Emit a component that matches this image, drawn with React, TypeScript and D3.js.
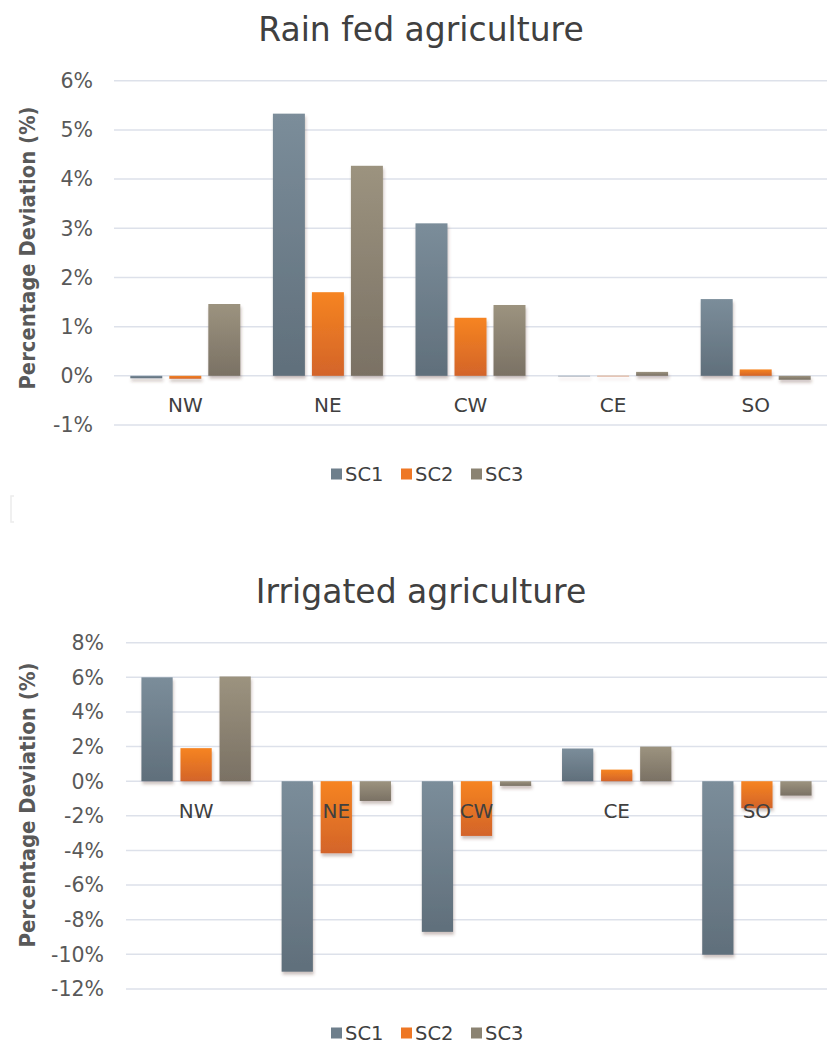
import React from "react";
import * as d3 from "d3";

// Regions and scenarios
const regions = ["NW", "NE", "CW", "CE", "SO"];
const scenarios = ["SC1", "SC2", "SC3"];

// Percentage deviation, rain fed agriculture (one array per scenario)
const rainSC1 = [-0.05, 5.33, 3.1, -0.01, 1.56];
const rainSC2 = [-0.06, 1.7, 1.18, -0.01, 0.13];
const rainSC3 = [1.46, 4.27, 1.44, 0.08, -0.08];
const rainTicks = [-1, 0, 1, 2, 3, 4, 5, 6];

// Percentage deviation, irrigated agriculture
const irrSC1 = [6.0, -11.0, -8.7, 1.89, -10.02];
const irrSC2 = [1.91, -4.16, -3.16, 0.67, -1.56];
const irrSC3 = [6.05, -1.14, -0.27, 2.0, -0.83];
const irrTicks = [-12, -10, -8, -6, -4, -2, 0, 2, 4, 6, 8];

const FONT = "'DejaVu Sans', Verdana, sans-serif";
const gradStops: Record<string, [string, string]> = {
  SC1: ["#7b8d9a", "#606f7b"],
  SC2: ["#f68420", "#d3642a"],
  SC3: ["#9c937f", "#7a7164"],
};
const legendFill: Record<string, string> = {
  SC1: "#6e7f8c",
  SC2: "#ee7724",
  SC3: "#8b8372",
};

type PanelProps = {
  title: string;
  titleY: number;
  series: number[][];
  ticks: number[];
  x0: number;
  x1: number;
  yTop: number;
  yBottom: number;
  tickRight: number;
  catLabelY: number;
  axisTitleY: number;
  axisTitleLen: number;
  legendY: number;
  innerPad: number;
  outerPad: number;
};

function Panel(p: PanelProps) {
  const dom = d3.extent(p.ticks) as [number, number];
  const y = d3.scaleLinear().domain(dom).range([p.yBottom, p.yTop]);
  const xc = d3.scaleBand<string>().domain(regions).range([p.x0, p.x1]).padding(0);
  const xs = d3
    .scaleBand<string>()
    .domain(scenarios)
    .range([0, xc.bandwidth()])
    .paddingInner(p.innerPad)
    .paddingOuter(p.outerPad);
  const legendX = d3.scaleLinear().domain([0, 1]).range([331, 401]);

  return (
    <g>
      <text
        x={421}
        y={p.titleY}
        textAnchor="middle"
        fontFamily={FONT}
        fontSize={33}
        fill="#404040"
      >
        {p.title}
      </text>
      {p.ticks.map((t) => (
        <g key={t}>
          <line
            x1={p.x0}
            x2={p.x1}
            y1={y(t)}
            y2={y(t)}
            stroke="#dde1ea"
            strokeWidth={1.5}
          />
          <text
            x={p.tickRight}
            y={y(t)}
            dy="0.36em"
            textAnchor="end"
            fontFamily={FONT}
            fontSize={20.5}
            fill="#595959"
          >
            {`${t}%`}
          </text>
        </g>
      ))}
      <text
        transform={`translate(27,${p.axisTitleY}) rotate(-90)`}
        textAnchor="middle"
        dy="0.35em"
        fontFamily={FONT}
        fontWeight="bold"
        fontSize={22}
        fill="#595959"
        textLength={p.axisTitleLen}
        lengthAdjust="spacingAndGlyphs"
      >
        Percentage Deviation (%)
      </text>
      <g filter="url(#barShadow)">
        {scenarios.map((s, si) =>
          regions.map((r, ri) => {
            const v = p.series[si][ri];
            const top = Math.min(y(v), y(0));
            const h = Math.abs(y(v) - y(0));
            return (
              <rect
                key={s + r}
                x={(xc(r) ?? 0) + (xs(s) ?? 0)}
                y={top}
                width={xs.bandwidth()}
                height={h}
                fill={`url(#grad${s})`}
              />
            );
          })
        )}
      </g>
      {regions.map((r) => (
        <text
          key={r}
          x={(xc(r) ?? 0) + xc.bandwidth() / 2}
          y={p.catLabelY}
          textAnchor="middle"
          fontFamily={FONT}
          fontSize={20}
          fill="#404040"
        >
          {r}
        </text>
      ))}
      {scenarios.map((s, i) => (
        <g key={s} transform={`translate(${legendX(i)},${p.legendY})`}>
          <rect x={0} y={-5.5} width={11} height={11} fill={legendFill[s]} />
          <text
            x={14}
            y={0}
            dy="0.36em"
            fontFamily={FONT}
            fontSize={19.5}
            fill="#404040"
          >
            {s}
          </text>
        </g>
      ))}
    </g>
  );
}

export default function App() {
  return (
    <svg
      width={828}
      height={1046}
      style={{ display: "block", position: "absolute", left: 0, top: 0 }}
    >
      <defs>
        <filter id="barShadow" x="-20%" y="-20%" width="140%" height="140%">
          <feDropShadow dx={1} dy={3} stdDeviation={1.6} floodColor="#5a3a2a" floodOpacity={0.3} />
        </filter>
        {scenarios.map((s) => (
          <linearGradient key={s} id={`grad${s}`} x1="0" y1="0" x2="0" y2="1">
            <stop offset="0" stopColor={gradStops[s][0]} />
            <stop offset="1" stopColor={gradStops[s][1]} />
          </linearGradient>
        ))}
      </defs>
      <rect width={828} height={1046} fill="#ffffff" />
      <Panel
        title="Rain fed agriculture"
        titleY={41}
        series={[rainSC1, rainSC2, rainSC3]}
        ticks={rainTicks}
        x0={114}
        x1={827}
        yTop={80.7}
        yBottom={425}
        tickRight={93}
        catLabelY={412}
        axisTitleY={248}
        axisTitleLen={283}
        legendY={474}
        innerPad={0.18}
        outerPad={0.418}
      />
      <path
        d="M14,496 L11,496 L11,522 L14,522"
        fill="none"
        stroke="#ececec"
        strokeWidth={1.5}
      />
      <Panel
        title="Irrigated agriculture"
        titleY={603}
        series={[irrSC1, irrSC2, irrSC3]}
        ticks={irrTicks}
        x0={126}
        x1={827}
        yTop={642.7}
        yBottom={989}
        tickRight={104}
        catLabelY={818}
        axisTitleY={805}
        axisTitleLen={285}
        legendY={1033}
        innerPad={0.2}
        outerPad={0.395}
      />
    </svg>
  );
}
